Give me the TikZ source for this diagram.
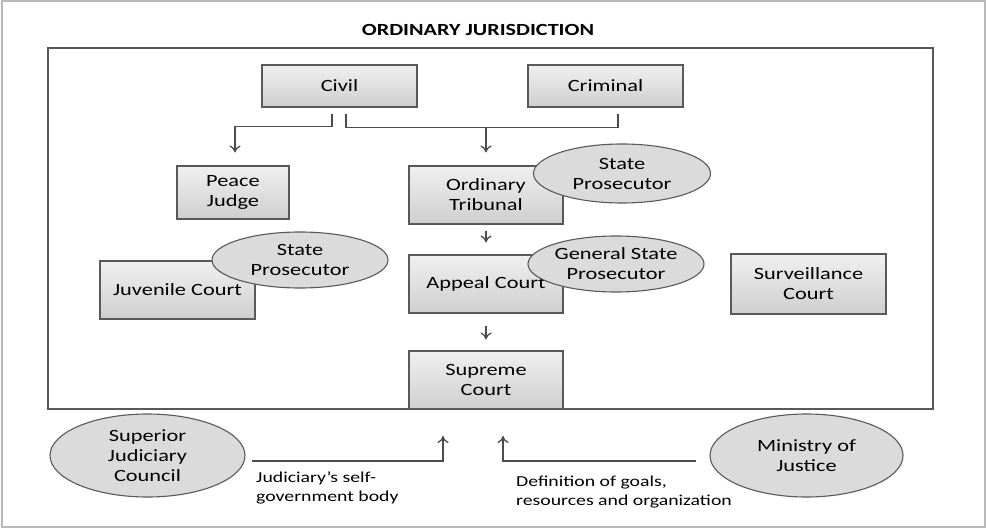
\documentclass[tikz,border=0pt]{standalone}
\usepackage{fontspec}
\setmainfont[FakeStretch=1.3]{Carlito}
\usetikzlibrary{arrows.meta,calc,shapes.geometric}
\begin{document}
\begin{tikzpicture}[x=1pt,y=-1pt,
  box/.style={draw=black!65,line width=1.1pt,top color=gray!12,bottom color=gray!38,
    minimum width=#1,inner sep=0pt,align=center,font=\fontsize{17.2}{20}\selectfont},
  box/.default={155pt},
  oval/.style={ellipse,draw=black!65,line width=1.1pt,fill=gray!28,inner sep=0pt,
    align=center,font=\fontsize{17.2}{20}\selectfont},
  conn/.style={draw=black!70,line width=1.3pt},
  arr/.style={conn,-{To[length=7pt,width=11pt,line width=1.3pt]}},
  lbl/.style={anchor=north west,align=left,inner sep=0pt,font=\fontsize{15.2}{18.5}\selectfont}]
\useasboundingbox (0,0) rectangle (987,529);
\draw[draw=gray!55,line width=1.5pt] (2,1) rectangle (985,527);
\node[font=\bfseries\fontsize{17}{20}\selectfont] (title) at (478,30) {ORDINARY JURISDICTION};
\draw[draw=black!65,line width=1.8pt] (48,48) rectangle (933,409);
% boxes
\node[box,minimum height=42pt] (civil) at (339.5,86) {Civil};
\node[box,minimum height=42pt] (criminal) at (605.5,86) {Criminal};
\node[box=112pt,minimum height=53pt] (peace) at (233,192.5) {Peace\\Judge};
\node[box=154pt,minimum height=58pt] (ordinary) at (486,195) {Ordinary\\Tribunal};
\node[box=155pt,minimum height=58pt] (juvenile) at (177.5,290) {Juvenile Court};
\node[box=154pt,minimum height=58pt] (appeal) at (486,284) {Appeal Court};
\node[box=155pt,minimum height=60pt] (surv) at (808.5,284) {Surveillance\\Court};
\node[box=154pt,minimum height=58pt] (supreme) at (486,380) {Supreme\\Court};
% ellipses
\node[oval,minimum width=177pt,minimum height=59pt] (sp1) at (622,173.5) {State\\Prosecutor};
\node[oval,minimum width=176pt,minimum height=56pt] (sp2) at (300,260) {State\\Prosecutor};
\node[oval,minimum width=176pt,minimum height=56pt] (gsp) at (616,264) {General State\\Prosecutor};
\node[oval,minimum width=195pt,minimum height=83pt] (sjc) at (147.5,455.5) {Superior\\Judiciary\\Council};
\node[oval,minimum width=193pt,minimum height=83pt] (moj) at (806.5,455.5) {Ministry of\\Justice};
% connectors
\coordinate (hub) at (486,127);
\draw[arr] ($(civil.south)+(-7.5,6)$) |- ($(peace.north)+(2,-39)$) -- ($(peace.north)+(2,-13)$);
\draw[conn] ($(civil.south)+(6.5,6)$) |- ($(criminal.south)+(12.5,20)$) -- ($(criminal.south)+(12.5,6)$);
\draw[arr] (hub) -- ($(ordinary.north)+(0,-13)$);
\draw[arr] ($(ordinary.south)+(0,6)$) -- ($(appeal.north)+(0,-12)$);
\draw[arr] ($(appeal.south)+(0,12)$) -- ($(supreme.north)+(0,-11)$);
\coordinate (up1) at (443,436);
\coordinate (up2) at (503,436);
\draw[arr] ($(sjc.east)+(6,5.5)$) -| (up1);
\draw[arr] ($(moj.west)+(-13,5.5)$) -| (up2);
\node[lbl] (l1) at (256,472) {Judiciary's self-\\government body};
\node[lbl] (l2) at (516,476) {Definition of goals,\\resources and organization};
\end{tikzpicture}
\end{document}
